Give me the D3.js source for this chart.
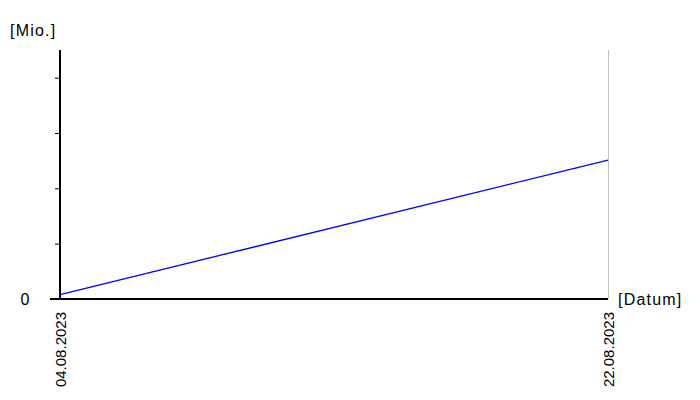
<!DOCTYPE html>
<html><head><meta charset="utf-8">
<script src="https://cdn.jsdelivr.net/npm/d3@7"></script>
<style>body{margin:0;background:#fff}svg{display:block}text{font-family:"Liberation Sans",Arial,sans-serif;fill:#000}</style>
</head><body><svg id="c" width="700" height="400"></svg>
<script>
const dates = ["2023-08-04", "2023-08-22"];
const values = [0.08, 2.51];
const yTicks = [0, 1, 2, 3, 4];
const yTickLabels = ["0", "", "", "", ""];
const xTickLabels = ["04.08.2023", "22.08.2023"];
const yUnit = "[Mio.]";
const xUnit = "[Datum]";

const parse = d3.timeParse("%Y-%m-%d");
const pts = dates.map((d, i) => ({ date: parse(d), value: values[i] }));
const svg = d3.select("#c");
const x = d3.scaleTime().domain(d3.extent(pts, d => d.date)).range([60, 608]);
const y = d3.scaleLinear().domain([0, 4.5]).range([299, 50]);

// right grey border line
svg.append("line").attr("x1", x.range()[1] + 0.5).attr("x2", x.range()[1] + 0.5)
  .attr("y1", y.range()[1]).attr("y2", y(0)).attr("stroke", "#c0c0c0").attr("stroke-width", 1);

// y axis
const yAxis = svg.append("g").attr("transform", `translate(${x.range()[0]},0)`)
  .call(d3.axisLeft(y).tickValues(yTicks).tickSize(5).tickFormat(""));
yAxis.select(".domain").remove();
yAxis.selectAll(".tick line").attr("stroke", "#000").attr("stroke-width", 1);
yAxis.selectAll(".tick").filter(d => d === 0).remove();
svg.append("line").attr("x1", 60).attr("x2", 60).attr("y1", y.range()[1]).attr("y2", y(0) + 1)
  .attr("stroke", "#000").attr("stroke-width", 2);

// y tick labels
svg.selectAll(".ylab").data(yTicks.filter((t, i) => yTickLabels[i] !== "")).enter().append("text")
  .attr("x", 25).attr("y", d => y(d)).attr("dy", "0.35em").attr("text-anchor", "middle")
  .style("font-size", "16px").text(d => yTickLabels[yTicks.indexOf(d)]);

// x axis
svg.append("line").attr("x1", 50).attr("x2", x.range()[1]).attr("y1", y(0)).attr("y2", y(0))
  .attr("stroke", "#000").attr("stroke-width", 2);
const xg = svg.append("g").attr("transform", `translate(0,${y(0)})`)
  .call(d3.axisBottom(x).tickValues(pts.map(p => p.date)).tickSize(0).tickFormat((d, i) => xTickLabels[i]));
xg.select(".domain").remove();
xg.selectAll("text").attr("transform", "rotate(-90)").attr("text-anchor", "end")
  .attr("x", -13).attr("y", 0).attr("dy", "0.35em").style("font-size", "15px")
  .style("font-family", '"Liberation Sans",Arial,sans-serif').attr("fill", "#000");

// line
svg.append("path").datum(pts).attr("fill", "none").attr("stroke", "#0000ff").attr("stroke-width", 1.3)
  .attr("d", d3.line().x(d => x(d.date)).y(d => y(d.value)));

// unit labels
svg.append("text").attr("x", 10).attr("y", 36).style("font-size", "16px").style("letter-spacing", "1.2px").text(yUnit);
svg.append("text").attr("x", 618).attr("y", 305).style("font-size", "16px").style("letter-spacing", "1.2px").text(xUnit);
</script></body></html>
